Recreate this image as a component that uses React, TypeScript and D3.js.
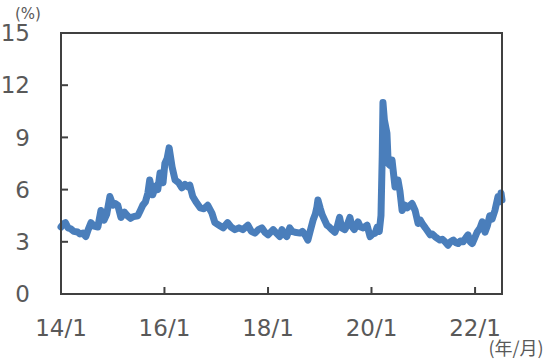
import React from "react";
import * as d3 from "d3";

const dates: string[] = [
  "2014-01-01","2014-01-20","2014-02-01","2014-02-20","2014-03-10","2014-04-01","2014-04-28","2014-05-15",
  "2014-06-05","2014-06-25","2014-07-12","2014-08-01","2014-08-22","2014-09-18","2014-10-10","2014-11-01",
  "2014-11-20","2014-12-12","2015-01-03","2015-01-20","2015-02-06","2015-02-28","2015-03-25","2015-04-15",
  "2015-05-07","2015-05-28","2015-06-27","2015-07-15","2015-08-01","2015-08-20","2015-09-06","2015-09-19",
  "2015-10-10","2015-10-30","2015-11-15","2015-12-01","2015-12-22","2016-01-04","2016-01-20","2016-02-03",
  "2016-02-24","2016-03-16","2016-04-10","2016-05-03","2016-05-25","2016-06-15","2016-06-28","2016-07-19",
  "2016-08-10","2016-09-09","2016-10-05","2016-11-01","2016-12-01","2016-12-22","2017-01-20","2017-02-18",
  "2017-03-22","2017-04-15","2017-05-12","2017-06-10","2017-07-07","2017-08-12","2017-09-05","2017-10-01",
  "2017-10-25","2017-11-19","2017-12-10","2018-01-01","2018-02-06","2018-03-01","2018-03-25","2018-04-09",
  "2018-04-25","2018-05-13","2018-06-03","2018-06-20","2018-07-09","2018-08-15","2018-09-01","2018-09-19",
  "2018-10-09","2018-10-25","2018-11-15","2018-12-01","2018-12-12","2018-12-19","2019-01-05","2019-01-18",
  "2019-02-21","2019-03-10","2019-03-27","2019-04-18","2019-05-05","2019-05-21","2019-06-05","2019-06-27",
  "2019-07-15","2019-08-02","2019-08-15","2019-09-01","2019-09-28","2019-10-15","2019-11-03","2019-12-01",
  "2019-12-22","2020-01-10","2020-01-27","2020-02-10","2020-02-25","2020-03-08","2020-03-17","2020-03-22",
  "2020-04-01","2020-04-19","2020-04-28","2020-05-10","2020-05-25","2020-06-15","2020-07-06","2020-07-20",
  "2020-08-04","2020-08-25","2020-09-09","2020-10-13","2020-11-04","2020-11-25","2020-12-10","2020-12-28",
  "2021-01-15","2021-02-01","2021-02-18","2021-03-05","2021-03-24","2021-04-10","2021-04-28","2021-05-15",
  "2021-06-03","2021-06-24","2021-07-12","2021-08-01","2021-08-18","2021-09-03","2021-09-20","2021-10-09",
  "2021-10-25","2021-11-12","2021-11-28","2021-12-12","2021-12-28","2022-01-15","2022-02-05","2022-02-21",
  "2022-03-12","2022-03-28","2022-04-15","2022-05-01","2022-05-21","2022-06-12","2022-06-25","2022-07-03",
  "2022-07-10",
];

const values: number[] = [
  3.85,4.05,4.1,3.8,3.75,3.6,3.56,3.45,
  3.5,3.3,3.7,4.1,3.9,3.85,4.8,4.25,
  4.6,5.6,5.1,5.2,5.1,4.4,4.7,4.5,
  4.35,4.45,4.5,4.8,5.1,5.3,5.8,6.55,
  5.7,6.2,6.0,6.95,6.4,7.5,7.8,8.4,
  7.3,6.55,6.4,6.1,6.3,6.15,6.25,5.6,
  5.3,4.95,4.9,5.1,4.65,4.1,3.95,3.8,
  4.1,3.85,3.7,3.8,3.7,3.95,3.6,3.5,
  3.7,3.8,3.55,3.4,3.7,3.5,3.3,3.7,
  3.45,3.3,3.8,3.6,3.55,3.5,3.6,3.4,
  3.1,3.6,4.25,4.6,5.0,5.4,4.9,4.55,
  3.95,3.85,3.7,3.55,3.9,4.4,3.8,3.7,
  4.0,4.4,3.9,3.7,4.15,3.85,3.8,3.95,
  3.3,3.45,3.5,3.85,3.6,4.5,8.0,11.0,
  10.0,9.25,7.5,7.4,7.7,6.15,6.55,5.9,
  4.8,5.1,4.95,5.2,4.8,4.05,4.25,4.0,
  3.8,3.6,3.4,3.45,3.3,3.2,3.1,3.15,
  3.0,2.8,3.0,3.1,2.95,2.9,3.05,3.0,
  3.2,3.4,3.0,2.9,3.2,3.55,3.8,4.15,
  3.55,3.9,4.5,4.3,4.8,5.6,5.3,5.8,
  5.4,
];

const yTicks: number[] = [0, 3, 6, 9, 12, 15];
const xTickDates: string[] = ["2014-01-01", "2016-01-01", "2018-01-01", "2020-01-01", "2022-01-01"];
const xTickLabels: string[] = ["14/1", "16/1", "18/1", "20/1", "22/1"];

const W = 550, H = 361;
const L = 61, R = 502, T = 33, B = 294;

export default function App() {
  const parse = d3.timeParse("%Y-%m-%d");
  const data = dates.map((d, i) => ({ d: parse(d)!, v: values[i] }));
  const x = d3.scaleTime().domain([parse("2014-01-01")!, parse("2022-07-10")!]).range([L, R]);
  const y = d3.scaleLinear().domain([0, 15]).range([B, T]);
  const line = d3.line<{ d: Date; v: number }>().x((p) => x(p.d)).y((p) => y(p.v));
  const axisColor = "#404040";
  const textColor = "#595959";
  const font = "'DejaVu Sans', Verdana, sans-serif";
  return (
    <svg width={W} height={H} style={{ position: "absolute", left: 0, top: 0, background: "#fff" }}>
      <path d={line(data) || ""} fill="none" stroke="#4a7ebb" strokeWidth={7} strokeLinejoin="round" strokeLinecap="round" />
      <rect x={L} y={T} width={R - L} height={B - T} fill="none" stroke={axisColor} strokeWidth={2} />
      {yTicks.map((t) => (
        <g key={"y" + t}>
          <line x1={L} x2={L + 7} y1={y(t)} y2={y(t)} stroke={axisColor} strokeWidth={2} />
          <text x={30} y={y(t)} dy="0.36em" textAnchor="end" fontSize={23} fill={textColor} fontFamily={font}>{t}</text>
        </g>
      ))}
      {xTickDates.map((s, i) => {
        const xx = x(parse(s)!);
        return (
          <g key={"x" + s}>
            <line x1={xx} x2={xx} y1={B} y2={B - 7} stroke={axisColor} strokeWidth={2} />
            <text x={xx} y={327.5} dy="0.36em" textAnchor="middle" fontSize={23} fill={textColor} fontFamily={font}>{xTickLabels[i]}</text>
          </g>
        );
      })}
      <text x={28} y={14} dy="0.36em" textAnchor="middle" fontSize={15} fill={textColor} fontFamily={font}>(%)</text>
      <text x={516} y={349} dy="0.36em" textAnchor="middle" fontSize={18} fill={textColor} fontFamily="'Noto Sans CJK JP', sans-serif">(年/月)</text>
    </svg>
  );
}
